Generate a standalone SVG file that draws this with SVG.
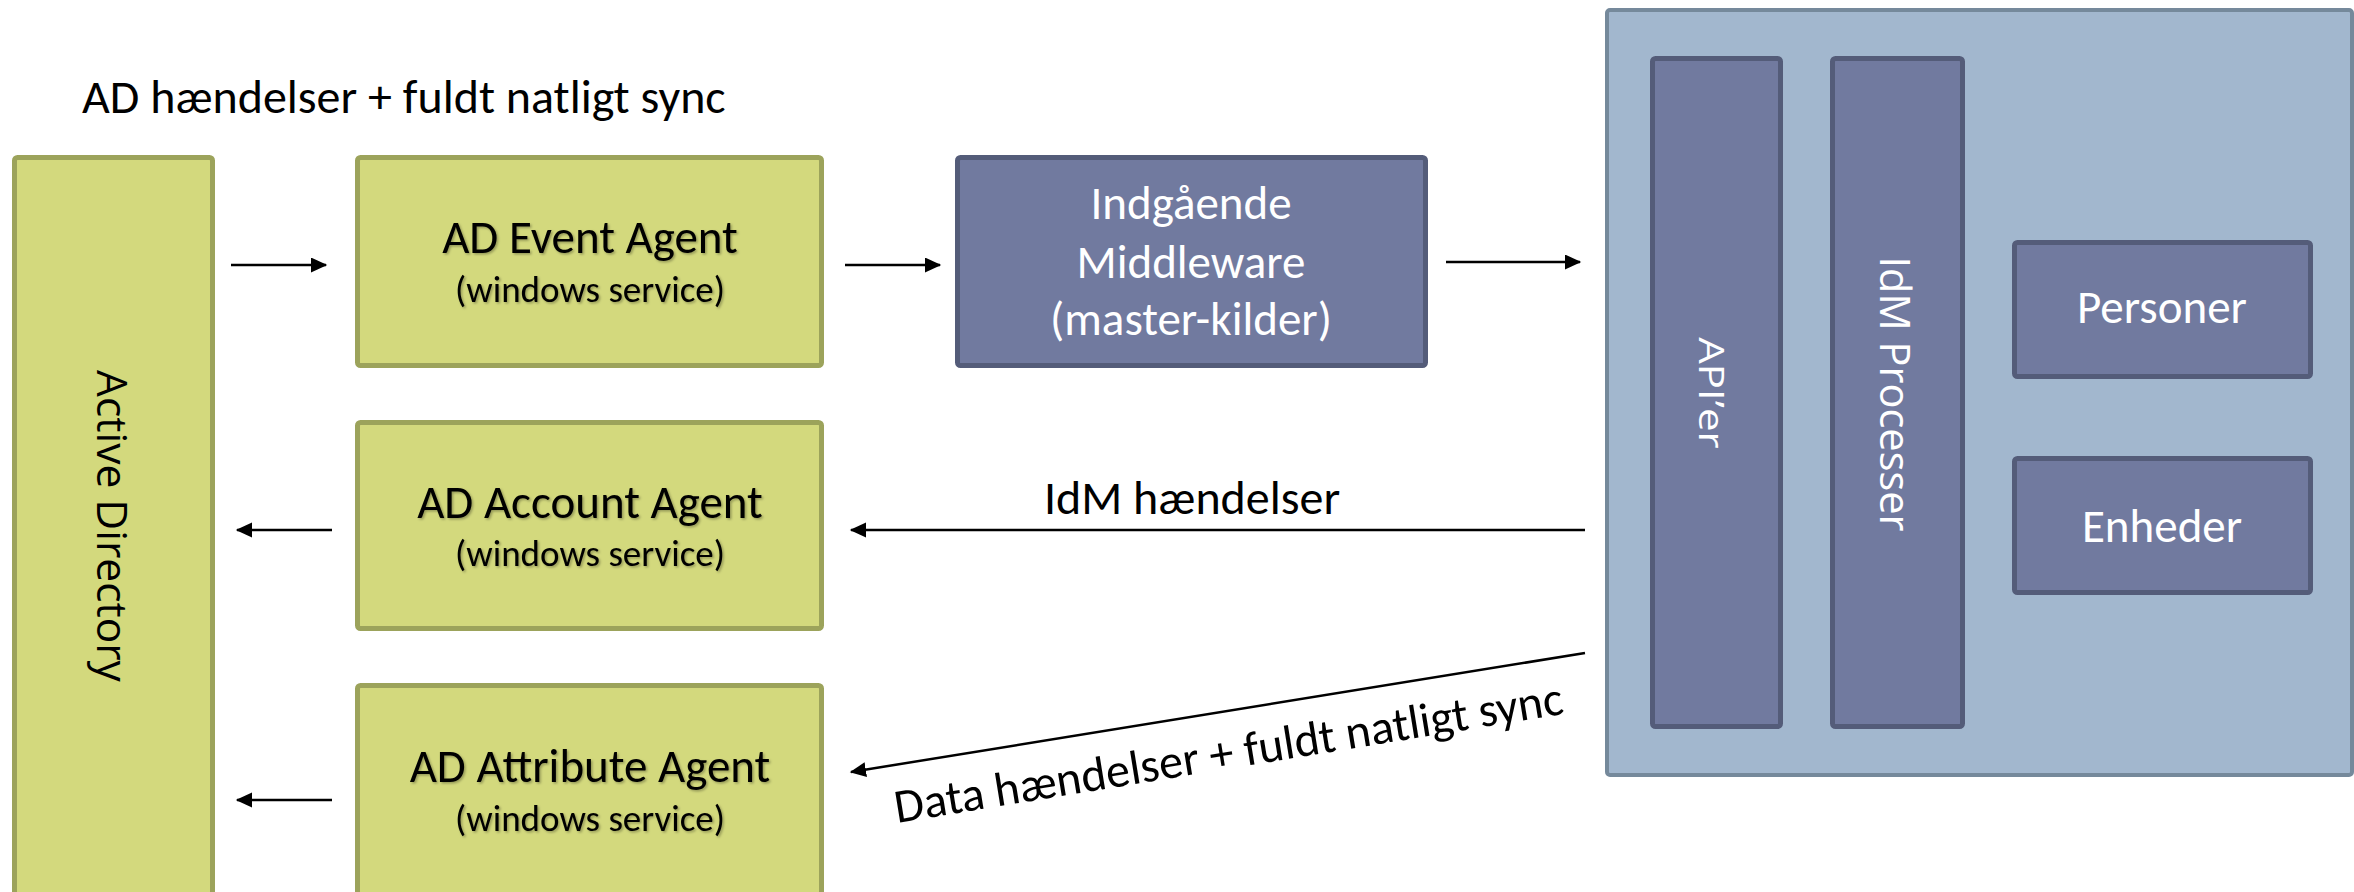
<svg xmlns="http://www.w3.org/2000/svg" width="2354" height="892" viewBox="0 0 2354 892">
  <style>
    .green { fill: #D3D97D; stroke: #9CA35B; stroke-width: 5; }
    .purple { fill: #717A9F; stroke: #545C79; stroke-width: 5; }
    .outer { fill: #A2B7CE; stroke: #75899B; stroke-width: 4; }
    .conn line { stroke: #000; stroke-width: 2.5; fill: none; marker-end: url(#ah); }
    .cal { font-family: Carlito, Lato, "Liberation Sans", sans-serif; }
    .main { font-size: 47px; fill: #000; text-anchor: middle; }
    .sub { font-size: 37px; fill: #000; text-anchor: middle; }
    .white { font-size: 47px; fill: #fff; text-anchor: middle; }
    .lbl { font-size: 48px; fill: #000; }
    .vert { font-family: "Open Sans", "DejaVu Sans", sans-serif; text-anchor: middle; }
  </style>
  <defs>
    <marker id="ah" markerWidth="7" markerHeight="7" refX="6" refY="3" orient="auto" markerUnits="strokeWidth">
      <path d="M0,0 L6.5,3 L0,6 Z" fill="#000"/>
    </marker>
    <filter id="sh" x="-5%" y="-20%" width="110%" height="140%">
      <feDropShadow dx="1.5" dy="1.5" stdDeviation="1" flood-color="#000" flood-opacity="0.3"/>
    </filter>
  </defs>

  <text class="cal lbl" x="82" y="113">AD hændelser + fuldt natligt sync</text>

  <g id="active-directory">
    <rect class="green" x="14.5" y="157.5" width="198" height="760" rx="3"/>
    <text class="vert" font-size="42.5" transform="translate(97,526) rotate(90)" fill="#000">Active Directory</text>
  </g>

  <g id="ad-event-agent">
    <rect class="green" x="357.5" y="157.5" width="464" height="208" rx="3"/>
    <g filter="url(#sh)">
      <text class="cal main" x="590" y="253">AD Event Agent</text>
      <text class="cal sub" x="590" y="302">(windows service)</text>
    </g>
  </g>

  <g id="ad-account-agent">
    <rect class="green" x="357.5" y="422.5" width="464" height="206" rx="3"/>
    <g filter="url(#sh)">
      <text class="cal main" x="590" y="518">AD Account Agent</text>
      <text class="cal sub" x="590" y="566">(windows service)</text>
    </g>
  </g>

  <g id="ad-attribute-agent">
    <rect class="green" x="357.5" y="685.5" width="464" height="230" rx="3"/>
    <g filter="url(#sh)">
      <text class="cal main" x="590" y="782">AD Attribute Agent</text>
      <text class="cal sub" x="590" y="831">(windows service)</text>
    </g>
  </g>

  <g id="middleware">
    <rect class="purple" x="957.5" y="157.5" width="468" height="208" rx="3"/>
    <text class="cal white" x="1191" y="219">Indgående</text>
    <text class="cal white" x="1191" y="278">Middleware</text>
    <text class="cal white" x="1191" y="335">(master-kilder)</text>
  </g>

  <g id="idm-system">
    <rect class="outer" x="1607" y="10" width="745" height="765" rx="3"/>
  </g>

  <g id="apier">
    <rect class="purple" x="1652.5" y="58.5" width="128" height="668" rx="3"/>
    <text class="vert" font-size="42" transform="translate(1699,393) rotate(90) scale(1,0.82)" fill="#fff">API’er</text>
  </g>

  <g id="idm-processer">
    <rect class="purple" x="1832.5" y="58.5" width="130" height="668" rx="3"/>
    <text class="vert" font-size="41.5" transform="translate(1880,394) rotate(90)" fill="#fff">IdM Processer</text>
  </g>

  <g id="personer">
    <rect class="purple" x="2014.5" y="242.5" width="296" height="134" rx="3"/>
    <text class="cal white" x="2162" y="323">Personer</text>
  </g>

  <g id="enheder">
    <rect class="purple" x="2014.5" y="458.5" width="296" height="134" rx="3"/>
    <text class="cal white" x="2162" y="542">Enheder</text>
  </g>

  <g id="connectors" class="conn">
    <line x1="231" y1="265" x2="326" y2="265"/>
    <line x1="845" y1="265" x2="940" y2="265"/>
    <line x1="1446" y1="262" x2="1580" y2="262"/>
    <line x1="332" y1="530" x2="237" y2="530"/>
    <line x1="332" y1="800" x2="237" y2="800"/>
    <line x1="1585" y1="530" x2="851" y2="530"/>
    <line x1="1585" y1="653" x2="851" y2="772"/>
  </g>

  <text class="cal lbl" x="1192" y="514" text-anchor="middle">IdM hændelser</text>
  <text class="cal lbl" transform="translate(897,823) rotate(-9.3)">Data hændelser + fuldt natligt sync</text>
</svg>
